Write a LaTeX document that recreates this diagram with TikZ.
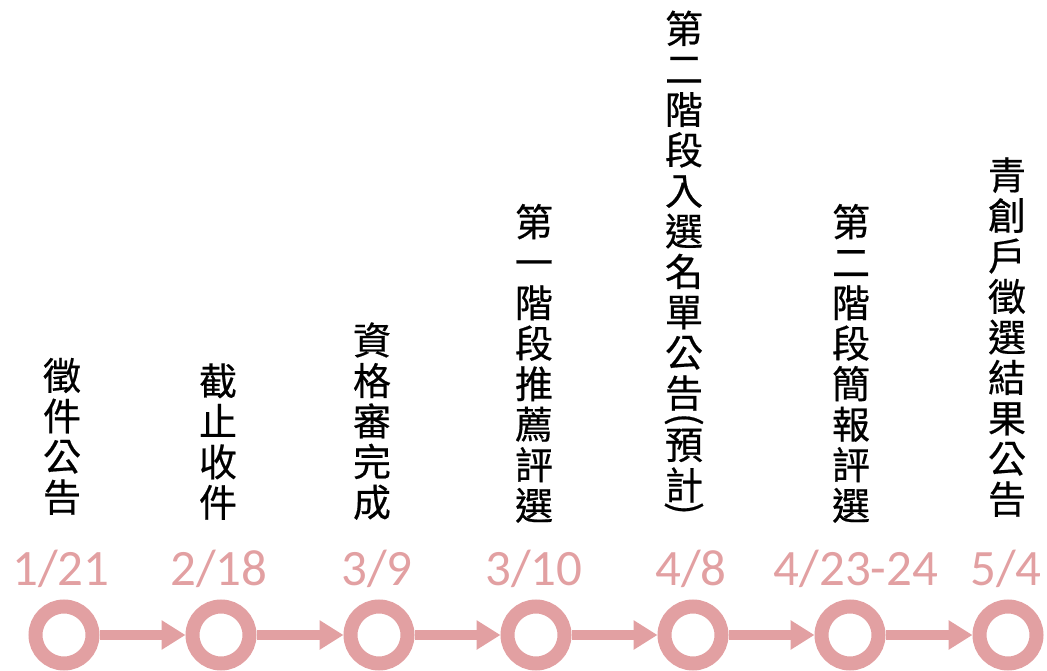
\documentclass[tikz,border=0pt]{standalone}
\usepackage{fontspec}
\usepackage{graphicx}
\setmainfont{Carlito}
\newfontfamily\cjk[FakeBold=0.5]{Noto Sans CJK TC}
\usetikzlibrary{arrows.meta}
\definecolor{stoppink}{RGB}{226,160,162}

\begin{document}
\begin{tikzpicture}[
    x=1pt, y=1pt, % one unit is one pixel of the layout
    stopring/.style={
        circle, % ring on the time line
        draw=stoppink, % pink ring
        line width=14pt, % thick ring
        fill=white, % white hole
        minimum size=57pt, inner sep=0pt, outer sep=7pt
    },
    date/.style={
        text=stoppink, % pink date
        font=\fontsize{51}{51}\selectfont, % large sans digits
        anchor=base, inner sep=0pt
    },
    task/.style={
        font=\cjk\fontsize{38}{40.5}\selectfont, % one character per line
        align=center, anchor=south, inner sep=0pt
    },
    link/.style={
        draw=stoppink, % pink arrow
        line width=10pt, % thick shaft
        -{Triangle[length=24pt,width=28pt]}
    }
]
\useasboundingbox (0,0) rectangle (1047,670);

% rings
\node[stopring] (s1) at (64,35) {};
\node[stopring] (s2) at (221,35) {};
\node[stopring] (s3) at (379,35) {};
\node[stopring] (s4) at (536,35) {};
\node[stopring] (s5) at (693,35) {};
\node[stopring] (s6) at (850,35) {};
\node[stopring] (s7) at (1008,35) {};

% arrows between rings
\draw[link] (s1) -- (s2);
\draw[link] (s2) -- (s3);
\draw[link] (s3) -- (s4);
\draw[link] (s4) -- (s5);
\draw[link] (s5) -- (s6);
\draw[link] (s6) -- (s7);

% dates
\node[date] (d1) at (61,85) {1/21};
\node[date] (d2) at (219,85) {2/18};
\node[date] (d3) at (377,85) {3/9};
\node[date] (d4) at (534,85) {3/10};
\node[date] (d5) at (691,85) {4/8};
\node[date] (d6) at (856,85) {4/23-24};
\node[date] (d7) at (1006,85) {5/4};

% vertical labels
\node[task] (t1) at (62,155) {徵\\件\\公\\告};
\node[task] (t2) at (218,150) {截\\止\\收\\件};
\node[task] (t3) at (372,150) {資\\格\\審\\完\\成};
\node[task] (t4) at (534,147) {第\\一\\階\\段\\推\\薦\\評\\選};
\node[task] (t5) at (684,155) {第\\二\\階\\段\\入\\選\\名\\單\\公\\告\\[-35pt]\rotatebox{-90}{(}\\[2pt]預\\計\\[-38pt]\rotatebox{-90}{)}};
\node[task] (t6) at (851,147) {第\\二\\階\\段\\簡\\報\\評\\選};
\node[task] (t7) at (1007,153) {青\\創\\戶\\徵\\選\\結\\果\\公\\告};
\end{tikzpicture}
\end{document}
